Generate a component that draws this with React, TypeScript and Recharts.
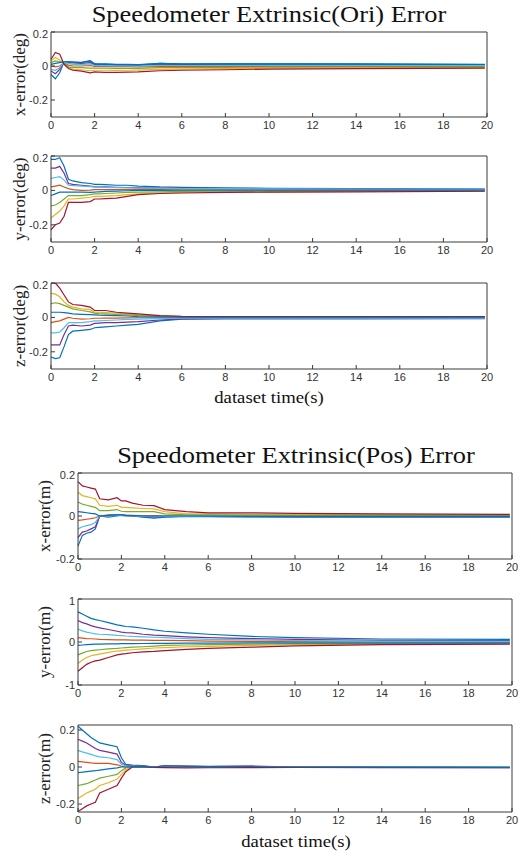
import { LineChart, Line, XAxis, YAxis } from "recharts"

// time samples (s)
const T = [0, 0.2, 0.4, 0.6, 0.8, 1, 1.4, 1.8, 2, 2.2, 2.5, 3, 3.5, 4, 5, 6, 8, 10, 14, 19.9]
const X_TICKS = [0, 2, 4, 6, 8, 10, 12, 14, 16, 18, 20]
// MATLAB default colour order, 8 runs
const COLORS = ["#0072BD", "#D95319", "#EDB120", "#7E2F8E", "#77AC30", "#4DBEEE", "#A2142F", "#0072BD"]

// series order: blue, orange, yellow, purple, green, light blue, red, blue
const oriX = [
  [-0.05, -0.075, -0.04, 0.025, 0.025, 0.025, 0.022, 0.032, 0.012, 0.01, 0.01, 0.008, 0.008, 0.006, 0.015, 0.011, 0.012, 0.012, 0.011, 0.008],
  [0.0, -0.005, 0.0, 0.02, 0.005, 0.0, 0.0, 0.003, -0.002, -0.003, -0.003, -0.004, -0.004, -0.005, -0.004, -0.004, -0.003, -0.003, -0.003, -0.003],
  [0.03, 0.05, 0.035, 0.015, -0.01, -0.02, -0.022, -0.028, -0.025, -0.025, -0.025, -0.026, -0.025, -0.024, -0.02, -0.018, -0.015, -0.013, -0.011, -0.009],
  [-0.03, -0.045, -0.02, 0.022, 0.02, 0.018, 0.015, 0.02, 0.008, 0.007, 0.006, 0.005, 0.005, 0.004, 0.01, 0.008, 0.009, 0.008, 0.008, 0.006],
  [0.02, 0.03, 0.025, 0.018, -0.005, -0.01, -0.01, -0.012, -0.012, -0.013, -0.013, -0.014, -0.014, -0.014, -0.01, -0.01, -0.008, -0.007, -0.006, -0.005],
  [-0.02, -0.025, -0.01, 0.022, 0.015, 0.01, 0.008, 0.012, 0.003, 0.002, 0.002, 0.0, 0.0, -0.001, 0.004, 0.003, 0.004, 0.004, 0.004, 0.003],
  [0.04, 0.08, 0.07, 0.01, -0.015, -0.025, -0.03, -0.04, -0.035, -0.036, -0.038, -0.038, -0.036, -0.035, -0.028, -0.025, -0.022, -0.018, -0.015, -0.012],
  [0.01, 0.015, 0.02, 0.025, 0.025, 0.022, 0.02, 0.028, 0.013, 0.012, 0.012, 0.01, 0.01, 0.008, 0.016, 0.012, 0.013, 0.013, 0.012, 0.009],
]

const oriY = [
  [0.18, 0.18, 0.19, 0.14, 0.065, 0.055, 0.045, 0.04, 0.035, 0.035, 0.033, 0.03, 0.03, 0.025, 0.02, 0.018, 0.015, 0.012, 0.01, 0.008],
  [0.02, 0.025, 0.03, 0.02, 0.01, 0.005, 0.0, 0.002, 0.005, 0.005, 0.005, 0.005, 0.005, 0.004, 0.004, 0.003, 0.003, 0.002, 0.002, 0.002],
  [-0.16, -0.14, -0.12, -0.09, -0.05, -0.05, -0.045, -0.04, -0.035, -0.035, -0.033, -0.03, -0.025, -0.02, -0.015, -0.012, -0.01, -0.008, -0.006, -0.004],
  [0.13, 0.13, 0.14, 0.1, 0.04, 0.035, 0.03, 0.025, 0.02, 0.02, 0.02, 0.018, 0.017, 0.015, 0.013, 0.012, 0.01, 0.009, 0.008, 0.006],
  [-0.09, -0.085, -0.07, -0.05, -0.03, -0.03, -0.03, -0.025, -0.02, -0.02, -0.018, -0.015, -0.012, -0.01, -0.008, -0.006, -0.005, -0.004, -0.003, -0.002],
  [0.07, 0.075, 0.08, 0.06, 0.03, 0.028, 0.025, 0.022, 0.02, 0.02, 0.018, 0.016, 0.015, 0.014, 0.012, 0.011, 0.01, 0.009, 0.008, 0.006],
  [-0.23, -0.2, -0.19, -0.15, -0.07, -0.07, -0.07, -0.065, -0.05, -0.05, -0.048, -0.045, -0.035, -0.025, -0.018, -0.015, -0.012, -0.01, -0.008, -0.005],
  [-0.03, -0.02, -0.01, -0.01, -0.01, -0.01, -0.01, -0.012, -0.01, -0.008, -0.006, -0.004, -0.002, 0.0, 0.0, 0.001, 0.001, 0.001, 0.001, 0.002],
]

const oriZ = [
  [-0.23, -0.24, -0.235, -0.17, -0.1, -0.08, -0.075, -0.07, -0.06, -0.058, -0.055, -0.05, -0.045, -0.04, -0.02, -0.01, -0.009, -0.008, -0.008, -0.007],
  [-0.03, -0.025, -0.02, -0.01, 0.0, -0.005, -0.01, -0.008, -0.005, -0.005, -0.004, -0.004, -0.003, -0.002, -0.002, -0.002, -0.002, -0.002, -0.002, -0.002],
  [0.14, 0.135, 0.12, 0.09, 0.07, 0.06, 0.05, 0.045, 0.03, 0.03, 0.028, 0.025, 0.02, 0.015, 0.008, 0.005, 0.004, 0.004, 0.004, 0.004],
  [-0.16, -0.16, -0.16, -0.1, -0.05, -0.045, -0.05, -0.045, -0.035, -0.033, -0.03, -0.03, -0.028, -0.025, -0.015, -0.008, -0.006, -0.006, -0.005, -0.005],
  [0.08, 0.085, 0.08, 0.07, 0.06, 0.05, 0.04, 0.032, 0.025, 0.022, 0.02, 0.017, 0.015, 0.012, 0.007, 0.004, 0.003, 0.003, 0.003, 0.003],
  [-0.09, -0.09, -0.085, -0.06, -0.03, -0.03, -0.03, -0.025, -0.02, -0.02, -0.018, -0.015, -0.012, -0.01, -0.007, -0.005, -0.004, -0.004, -0.004, -0.004],
  [0.2, 0.2, 0.17, 0.13, 0.09, 0.075, 0.07, 0.06, 0.04, 0.04, 0.04, 0.03, 0.025, 0.02, 0.01, 0.006, 0.005, 0.005, 0.005, 0.005],
  [0.03, 0.03, 0.03, 0.028, 0.025, 0.02, 0.018, 0.016, 0.015, 0.013, 0.012, 0.01, 0.008, 0.005, 0.003, 0.001, 0.001, 0.001, 0.001, 0.001],
]

const posX = [
  [-0.14, -0.09, -0.08, -0.075, -0.06, 0.0, -0.005, 0.0, 0.005, 0.002, 0.0, -0.005, -0.01, -0.005, -0.002, -0.003, -0.004, -0.005, -0.005, -0.005],
  [-0.02, -0.018, -0.015, -0.012, -0.008, 0.0, 0.005, 0.005, 0.005, 0.004, 0.003, 0.002, 0.002, 0.001, 0.0, 0.0, 0.0, 0.0, 0.0, 0.0],
  [0.11, 0.095, 0.09, 0.085, 0.08, 0.05, 0.045, 0.05, 0.04, 0.04, 0.038, 0.035, 0.033, 0.02, 0.01, 0.01, 0.008, 0.007, 0.006, 0.005],
  [-0.1, -0.075, -0.07, -0.06, -0.05, 0.0, 0.002, 0.004, 0.003, 0.002, 0.0, -0.003, -0.005, -0.003, -0.002, -0.002, -0.003, -0.004, -0.004, -0.004],
  [0.065, 0.055, 0.05, 0.045, 0.04, 0.025, 0.025, 0.03, 0.022, 0.02, 0.02, 0.02, 0.02, 0.01, 0.005, 0.005, 0.004, 0.003, 0.003, 0.002],
  [-0.06, -0.05, -0.045, -0.04, -0.03, 0.0, 0.0, 0.002, 0.002, 0.0, 0.0, -0.002, -0.003, -0.002, -0.002, -0.002, -0.003, -0.003, -0.003, -0.003],
  [0.16, 0.14, 0.135, 0.13, 0.125, 0.08, 0.075, 0.085, 0.07, 0.07, 0.06, 0.05, 0.048, 0.03, 0.02, 0.015, 0.015, 0.012, 0.01, 0.008],
  [0.02, 0.018, 0.015, 0.012, 0.01, 0.0, 0.003, 0.005, 0.005, 0.003, 0.002, 0.0, 0.0, 0.0, 0.0, -0.001, -0.002, -0.002, -0.002, -0.002],
]

const posY = [
  [0.7, 0.65, 0.6, 0.55, 0.52, 0.5, 0.45, 0.4, 0.38, 0.36, 0.35, 0.32, 0.28, 0.25, 0.21, 0.18, 0.13, 0.1, 0.07, 0.06],
  [0.1, 0.09, 0.08, 0.075, 0.07, 0.06, 0.055, 0.05, 0.05, 0.048, 0.045, 0.042, 0.04, 0.038, 0.03, 0.02, 0.015, 0.01, 0.005, 0.0],
  [-0.5, -0.42, -0.36, -0.32, -0.3, -0.28, -0.24, -0.21, -0.2, -0.19, -0.18, -0.16, -0.14, -0.13, -0.11, -0.1, -0.08, -0.06, -0.05, -0.04],
  [0.5, 0.45, 0.42, 0.38, 0.35, 0.33, 0.29, 0.25, 0.23, 0.22, 0.21, 0.18, 0.16, 0.15, 0.12, 0.1, 0.08, 0.06, 0.04, 0.03],
  [-0.3, -0.26, -0.22, -0.2, -0.19, -0.18, -0.16, -0.15, -0.14, -0.13, -0.12, -0.11, -0.095, -0.08, -0.07, -0.06, -0.05, -0.04, -0.035, -0.03],
  [0.3, 0.26, 0.23, 0.21, 0.19, 0.18, 0.17, 0.155, 0.15, 0.14, 0.13, 0.12, 0.11, 0.1, 0.08, 0.06, 0.05, 0.03, 0.02, 0.015],
  [-0.68, -0.6, -0.52, -0.47, -0.44, -0.42, -0.36, -0.3, -0.28, -0.27, -0.25, -0.23, -0.22, -0.2, -0.17, -0.15, -0.12, -0.09, -0.06, -0.05],
  [-0.08, -0.07, -0.06, -0.055, -0.05, -0.05, -0.045, -0.042, -0.04, -0.04, -0.038, -0.035, -0.033, -0.03, -0.028, -0.025, -0.022, -0.02, -0.02, -0.02],
]

const posZ = [
  [0.22, 0.2, 0.18, 0.16, 0.145, 0.13, 0.12, 0.11, 0.05, 0.015, 0.01, 0.008, 0.0, 0.008, 0.005, 0.004, 0.005, 0.0, -0.002, -0.003],
  [0.03, 0.028, 0.025, 0.022, 0.02, 0.02, 0.02, 0.012, 0.005, 0.0, 0.0, 0.0, 0.0, 0.002, 0.002, 0.001, 0.0, 0.0, -0.001, -0.002],
  [-0.17, -0.155, -0.14, -0.13, -0.12, -0.1, -0.085, -0.065, -0.04, -0.015, 0.0, 0.002, 0.0, 0.003, 0.002, 0.001, 0.0, 0.0, -0.002, -0.002],
  [0.15, 0.14, 0.13, 0.115, 0.1, 0.09, 0.08, 0.07, 0.025, 0.01, 0.008, 0.005, 0.0, 0.005, 0.003, 0.002, 0.003, 0.0, -0.001, -0.002],
  [-0.1, -0.095, -0.09, -0.08, -0.07, -0.06, -0.05, -0.04, -0.02, -0.005, 0.0, 0.002, 0.0, 0.003, 0.002, 0.001, 0.0, 0.0, -0.001, -0.002],
  [0.09, 0.082, 0.075, 0.068, 0.06, 0.055, 0.05, 0.04, 0.015, 0.006, 0.005, 0.003, 0.0, 0.004, 0.002, 0.002, 0.002, 0.0, -0.001, -0.002],
  [-0.24, -0.225, -0.21, -0.2, -0.19, -0.14, -0.12, -0.1, -0.06, -0.025, 0.0, 0.0, -0.002, -0.003, -0.005, -0.004, -0.003, -0.002, -0.003, -0.003],
  [-0.03, -0.028, -0.025, -0.022, -0.02, -0.017, -0.01, -0.005, 0.0, 0.0, 0.002, 0.003, 0.0, 0.006, 0.003, 0.002, 0.003, 0.0, -0.001, -0.002],
]

const AX = "#3a3a3a"
const TICK_STYLE = { fontSize: 11, fill: "#333", fontFamily: "'Liberation Sans', Arial, sans-serif" }

function toRows(series: number[][]) {
  return T.map((t, i) => {
    const row: Record<string, number> = { t }
    series.forEach((s, k) => { row[`s${k}`] = s[i] })
    return row
  })
}

interface PanelProps {
  data: number[][]
  top: number
  bottom: number
  left: number
  right: number
  domain: [number, number]
  yTicks: number[]
}

function Panel({ data, top, bottom, left, right, domain, yTicks }: PanelProps) {
  const mt = 4
  const xh = 24
  const yw = 30
  const h = bottom - top
  // top and right axes take 1px each, so the margins shrink by that much
  return (
    <div style={{ position: "absolute", left: 0, top: top - mt }}>
      <LineChart
        width={519}
        height={mt + h + xh}
        data={toRows(data)}
        margin={{ top: mt - 1, right: 519 - right - 1, bottom: 0, left: left - yw }}
      >
        <XAxis
          dataKey="t" type="number" domain={[0, 20]} ticks={X_TICKS} height={xh}
          tickSize={-4} tickMargin={8} tick={TICK_STYLE}
          axisLine={{ stroke: AX }} tickLine={{ stroke: AX }}
        />
        <XAxis
          xAxisId="top" orientation="top" dataKey="t" type="number" domain={[0, 20]} ticks={X_TICKS}
          height={1} tickSize={-4} tick={false}
          axisLine={{ stroke: AX }} tickLine={{ stroke: AX }}
        />
        <YAxis
          type="number" domain={domain} ticks={yTicks} width={yw} allowDataOverflow
          tickSize={-4} tickMargin={7} tick={TICK_STYLE}
          axisLine={{ stroke: AX }} tickLine={{ stroke: AX }}
        />
        <YAxis
          yAxisId="right" orientation="right" type="number" domain={domain} ticks={yTicks} width={1}
          allowDataOverflow tickSize={-4} tick={false}
          axisLine={{ stroke: AX }} tickLine={{ stroke: AX }}
        />
        {COLORS.map((c, k) => (
          <Line
            key={k} dataKey={`s${k}`} type="linear" stroke={c} strokeWidth={1.2}
            dot={false} activeDot={false} isAnimationActive={false}
          />
        ))}
      </LineChart>
    </div>
  )
}

const SERIF = "'Liberation Serif', 'Times New Roman', serif"

function YLabel({ x, y, text }: { x: number; y: number; text: string }) {
  return (
    <text transform={`translate(${x},${y}) rotate(-90)`} textAnchor="middle" fontFamily={SERIF} fontSize={17} fill="#222">
      {text}
    </text>
  )
}

function Caption({ x, y, size, text }: { x: number; y: number; size: number; text: string }) {
  return (
    <text transform={`translate(${x},${y}) scale(1.1,1)`} textAnchor="middle" fontFamily={SERIF} fontSize={size} fill="#111">
      {text}
    </text>
  )
}

export default function App() {
  const t02 = [-0.2, 0, 0.2]
  return (
    <div style={{ position: "absolute", left: 0, top: 0, width: 519, height: 852, background: "#fff" }}>
      <Panel data={oriX} top={32} bottom={117} left={51} right={487} domain={[-0.3, 0.2]} yTicks={t02} />
      <Panel data={oriY} top={156} bottom={242} left={51} right={487} domain={[-0.3, 0.2]} yTicks={t02} />
      <Panel data={oriZ} top={283} bottom={369} left={51} right={487} domain={[-0.3, 0.2]} yTicks={t02} />
      <Panel data={posX} top={473} bottom={559} left={78} right={512} domain={[-0.2, 0.2]} yTicks={t02} />
      <Panel data={posY} top={599} bottom={685} left={78} right={512} domain={[-1, 1]} yTicks={[-1, 0, 1]} />
      <Panel data={posZ} top={725} bottom={812} left={78} right={512} domain={[-0.243, 0.227]} yTicks={t02} />
      <svg width={519} height={852} style={{ position: "absolute", left: 0, top: 0, pointerEvents: "none" }}>
        <Caption x={269} y={22} size={24} text="Speedometer Extrinsic(Ori) Error" />
        <Caption x={269} y={403} size={17} text="dataset time(s)" />
        <Caption x={296} y={463} size={24} text="Speedometer Extrinsic(Pos) Error" />
        <Caption x={296} y={847} size={17} text="dataset time(s)" />
        <YLabel x={25} y={74.5} text="x-error(deg)" />
        <YLabel x={25} y={199} text="y-error(deg)" />
        <YLabel x={25} y={326} text="z-error(deg)" />
        <YLabel x={50} y={516} text="x-error(m)" />
        <YLabel x={50} y={642} text="y-error(m)" />
        <YLabel x={50} y={768.5} text="z-error(m)" />
      </svg>
    </div>
  )
}
